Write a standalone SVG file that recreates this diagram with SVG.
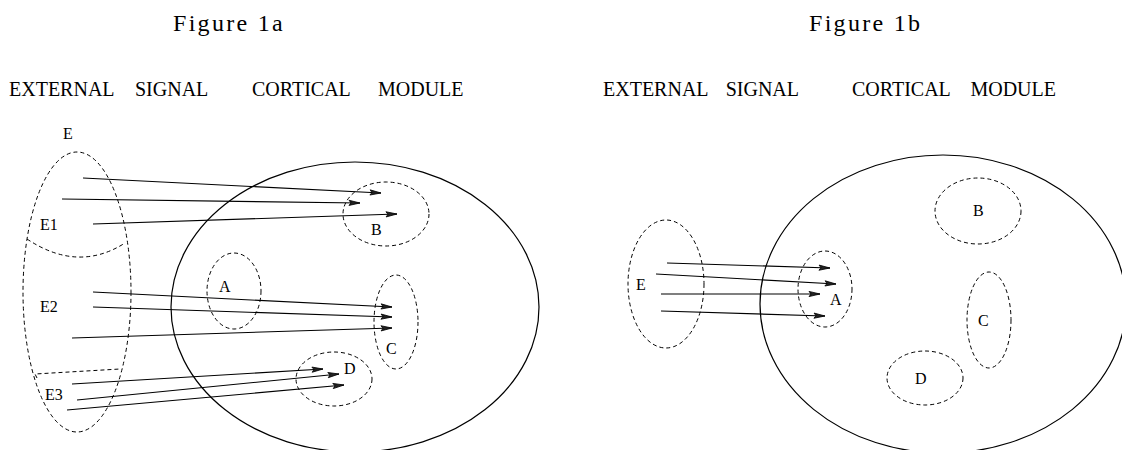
<svg xmlns="http://www.w3.org/2000/svg" width="1122" height="450" viewBox="0 0 1122 450">
<style>
  .title { font-family: "Liberation Serif", serif; font-size: 24px; letter-spacing: 2.3px; fill: #000; }
  .hdr { font-family: "Liberation Serif", serif; font-size: 20px; fill: #000; }
  .lbl { font-family: "Liberation Serif", serif; font-size: 16px; fill: #000; }
  .solid { fill: none; stroke: #000; stroke-width: 1.2; }
  .dash { fill: none; stroke: #000; stroke-width: 1; stroke-dasharray: 4 3; }
  .arrow { fill: none; stroke: #000; stroke-width: 1.1; marker-end: url(#ah); }
</style>
<defs>
  <marker id="ah" markerWidth="14" markerHeight="10" refX="12" refY="5" orient="auto" markerUnits="userSpaceOnUse">
    <path d="M1,2.4 L12,5 L1,7.6 L3,5 Z" fill="#222" stroke="#000" stroke-width="0.8"/>
  </marker>
</defs>
<rect width="1122" height="450" fill="#fff"/>

<!-- Headings -->
<text class="title" x="173" y="31">Figure 1a</text>
<text class="title" x="809" y="31">Figure 1b</text>
<text class="hdr" x="9" y="96">EXTERNAL</text>
<text class="hdr" x="135" y="96">SIGNAL</text>
<text class="hdr" x="252" y="96">CORTICAL</text>
<text class="hdr" x="378" y="96">MODULE</text>
<text class="hdr" x="603" y="96">EXTERNAL</text>
<text class="hdr" x="799" y="96" text-anchor="end">SIGNAL</text>
<text class="hdr" x="852" y="96">CORTICAL</text>
<text class="hdr" x="1056" y="96" text-anchor="end">MODULE</text>

<!-- Figure 1a -->
<g id="fig1a-module">
  <ellipse class="solid" cx="355" cy="307" rx="184" ry="145"/>
</g>
<g id="fig1a-E">
  <ellipse class="dash" cx="77" cy="292" rx="54" ry="140"/>
  <path class="dash" d="M27,239 Q78,273 125,243"/>
  <path class="dash" d="M37,378 L35,374 L120,369"/>
  <text class="lbl" x="63" y="139">E</text>
  <text class="lbl" x="40" y="230">E1</text>
  <text class="lbl" x="40" y="312">E2</text>
  <text class="lbl" x="45" y="400">E3</text>
</g>
<g id="fig1a-A">
  <ellipse class="dash" cx="234" cy="291" rx="27" ry="38"/>
  <text class="lbl" x="219" y="292">A</text>
</g>
<g id="fig1a-B">
  <ellipse class="dash" cx="386" cy="214" rx="43" ry="32"/>
  <text class="lbl" x="371" y="235">B</text>
</g>
<g id="fig1a-C">
  <ellipse class="dash" cx="396" cy="322" rx="22" ry="47"/>
  <text class="lbl" x="386" y="354">C</text>
</g>
<g id="fig1a-D">
  <ellipse class="dash" cx="334" cy="379" rx="38" ry="27"/>
  <text class="lbl" x="344" y="374">D</text>
</g>
<g id="fig1a-connectors">
  <line class="arrow" x1="83" y1="178" x2="381" y2="193"/>
  <line class="arrow" x1="62" y1="199" x2="360" y2="203"/>
  <line class="arrow" x1="93" y1="224" x2="397" y2="214"/>
  <line class="arrow" x1="93" y1="292" x2="392" y2="307"/>
  <line class="arrow" x1="93" y1="307" x2="392" y2="317"/>
  <line class="arrow" x1="72" y1="338" x2="392" y2="328"/>
  <line class="arrow" x1="72" y1="384" x2="323" y2="369"/>
  <line class="arrow" x1="77" y1="400" x2="339" y2="374"/>
  <line class="arrow" x1="67" y1="410" x2="344" y2="385"/>
</g>

<!-- Figure 1b -->
<g id="fig1b-module">
  <ellipse class="solid" cx="943" cy="304" rx="183" ry="149"/>
</g>
<g id="fig1b-E">
  <ellipse class="dash" cx="666" cy="284" rx="38" ry="64"/>
  <text class="lbl" x="636" y="290">E</text>
</g>
<g id="fig1b-A">
  <ellipse class="dash" cx="825" cy="289" rx="27" ry="38"/>
  <text class="lbl" x="830" y="305">A</text>
</g>
<g id="fig1b-B">
  <ellipse class="dash" cx="978" cy="211" rx="43" ry="33"/>
  <text class="lbl" x="973" y="216">B</text>
</g>
<g id="fig1b-C">
  <ellipse class="dash" cx="989" cy="320" rx="22" ry="48"/>
  <text class="lbl" x="978" y="326">C</text>
</g>
<g id="fig1b-D">
  <ellipse class="dash" cx="925" cy="378" rx="38" ry="27"/>
  <text class="lbl" x="915" y="384">D</text>
</g>
<g id="fig1b-connectors">
  <line class="arrow" x1="667" y1="263" x2="830" y2="268"/>
  <line class="arrow" x1="656" y1="274" x2="836" y2="284"/>
  <line class="arrow" x1="661" y1="294" x2="820" y2="294"/>
  <line class="arrow" x1="661" y1="311" x2="825" y2="316"/>
</g>
</svg>
